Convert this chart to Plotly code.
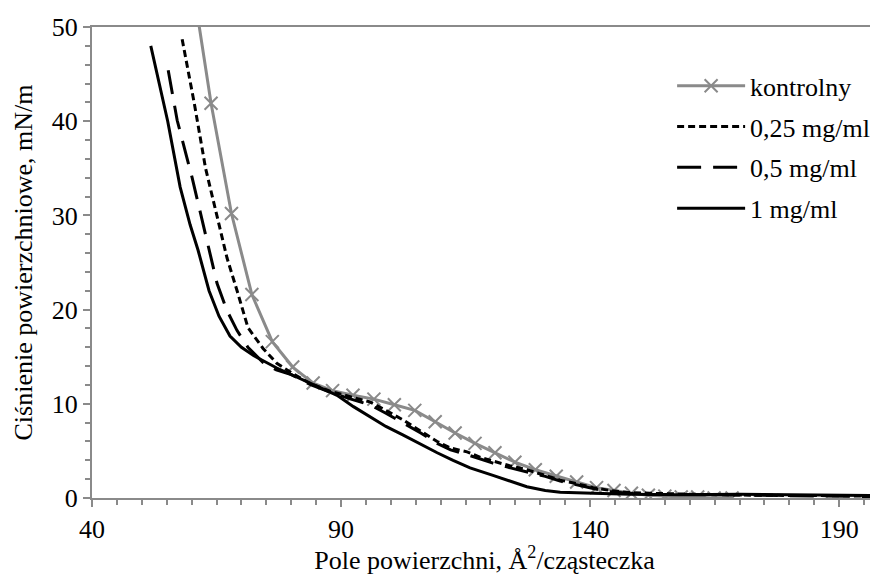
import plotly.graph_objects as go

# --- data ---
x_ctrl = [59.8, 63.9, 68.0, 72.1, 76.2, 80.3, 84.4, 88.3, 92.4, 96.6, 100.7, 104.8, 108.9,
          112.9, 116.9, 120.9, 124.9, 129.0, 133.2, 137.3, 141.3, 144.8, 148.3, 151.7,
          155.0, 158.3, 161.6, 164.9, 168.5]
y_ctrl = [56.0, 41.9, 30.2, 21.6, 16.6, 13.9, 12.2, 11.4, 10.9, 10.5, 9.9, 9.3, 8.1,
          6.9, 5.8, 4.8, 3.8, 3.0, 2.3, 1.7, 1.1, 0.8, 0.5, 0.3,
          0.2, 0.1, 0.1, 0.0, 0.0]

x_025 = [58.1, 60.5, 62.8, 65.2, 67.1, 69.3, 71.3, 74.3, 77.1, 80.0, 84.0, 88.0, 92.0, 95.8,
         99.0, 102.4, 106.0, 109.3, 112.0, 115.3, 118.0, 120.5, 124.0, 127.3, 131.0, 134.0,
         137.5, 140.6, 144.0, 147.4, 152.0, 158.0, 165.0, 172.0, 180.0, 188.0, 197.5]
y_025 = [48.7, 42.0, 35.0, 29.5, 25.5, 21.7, 18.1, 15.9, 14.3, 13.3, 12.1, 11.3, 10.7, 10.2,
         9.3, 8.3, 7.1, 6.0, 5.3, 4.9, 4.3, 3.9, 3.4, 3.0, 2.4, 1.9,
         1.5, 1.1, 0.8, 0.6, 0.5, 0.4, 0.35, 0.3, 0.3, 0.25, 0.2]

x_05 = [55.3, 57.1, 60.1, 62.4, 65.1, 67.1, 69.1, 71.3, 74.3, 77.0, 80.0, 84.0, 88.0, 92.0,
        95.8, 99.0, 102.4, 106.0, 109.3, 112.0, 115.3, 118.0, 120.5, 124.0, 127.3, 131.0,
        134.0, 137.5, 140.6, 144.0, 147.4, 152.0, 158.0, 165.0, 172.0, 180.0, 188.0, 197.5]
y_05 = [45.4, 40.1, 34.0, 29.0, 22.8, 19.9, 17.8, 16.0, 14.4, 13.6, 13.1, 12.0, 11.2, 10.5,
        9.9, 9.0, 8.0, 6.9, 5.8, 5.1, 4.6, 4.1, 3.7, 3.2, 2.8, 2.3,
        1.8, 1.4, 1.0, 0.7, 0.5, 0.4, 0.35, 0.35, 0.3, 0.25, 0.2, 0.15]

x_1 = [51.8, 55.2, 57.7, 59.7, 61.3, 63.5, 65.5, 67.7, 70.0, 72.5, 77.1, 80.0, 84.0, 89.2,
       92.5, 95.8, 99.0, 102.4, 106.0, 109.3, 112.5, 115.9, 120.5, 124.0, 127.3, 131.0,
       134.0, 140.6, 148.0, 158.0, 170.0, 180.0, 190.0, 197.5]
y_1 = [48.0, 40.0, 33.0, 29.0, 26.3, 22.0, 19.3, 17.2, 16.0, 15.1, 13.8, 13.1, 12.2, 10.9,
       9.7, 8.6, 7.6, 6.7, 5.7, 4.8, 4.0, 3.2, 2.4, 1.8, 1.2, 0.8,
       0.6, 0.5, 0.4, 0.35, 0.4, 0.35, 0.3, 0.25]

names = ["kontrolny", "0,25 mg/ml", "0,5 mg/ml", "1 mg/ml"]
x_ticks = [40, 90, 140, 190]
y_ticks = [0, 10, 20, 30, 40, 50]

GRAY = "#8a8a8a"
FONT = "Liberation Serif"
FS = 26

fig = go.Figure()
fig.add_trace(go.Scatter(x=x_ctrl, y=y_ctrl, name=names[0], mode="lines+markers",
                         line=dict(color=GRAY, width=3),
                         marker=dict(symbol="x-thin", size=13, line=dict(color=GRAY, width=2), color=GRAY),
                         legendgroup="a"))
fig.add_trace(go.Scatter(x=x_025, y=y_025, name=names[1], mode="lines",
                         line=dict(color="black", width=3, dash="7px,4px"), legendgroup="b"))
fig.add_trace(go.Scatter(x=x_05, y=y_05, name=names[2], mode="lines",
                         line=dict(color="black", width=3, dash="24px,12px"), legendgroup="c"))
fig.add_trace(go.Scatter(x=x_1, y=y_1, name=names[3], mode="lines",
                         line=dict(color="black", width=3), legendgroup="d"))

fig.update_layout(
    width=870, height=567,
    margin=dict(l=84, r=1, t=19, b=77),
    plot_bgcolor="white", paper_bgcolor="white",
    font=dict(family=FONT, size=FS, color="black"),
    showlegend=True,
    legend=dict(x=0.739, y=0.925, xanchor="left", yanchor="top",
                bgcolor="rgba(0,0,0,0)", font=dict(size=FS, family=FONT),
                tracegroupgap=4, itemwidth=68),
    xaxis=dict(range=[40, 197.6], tickvals=x_ticks, showline=True, linecolor=GRAY, linewidth=2,
               mirror=True, ticks="outside", ticklen=7, tickcolor=GRAY, tickwidth=2,
               showgrid=False, zeroline=False, tickfont=dict(size=FS, family=FONT),
               minor=dict(dtick=5, ticks="outside", ticklen=5, tickcolor=GRAY, tickwidth=2),
               title=dict(text="Pole powierzchni, Å<sup>2</sup>/cząsteczka", standoff=6,
                          font=dict(size=FS, family=FONT))),
    yaxis=dict(range=[0, 50], tickvals=y_ticks, showline=True, linecolor=GRAY, linewidth=2,
               ticks="outside", ticklen=7, tickcolor=GRAY, tickwidth=2,
               showgrid=False, zeroline=False, tickfont=dict(size=FS, family=FONT),
               minor=dict(dtick=2, ticks="outside", ticklen=5, tickcolor=GRAY, tickwidth=2),
               title=dict(text="Ciśnienie powierzchniowe, mN/m", standoff=12,
                          font=dict(size=FS, family=FONT))),
)

fig.write_html("out.html")
